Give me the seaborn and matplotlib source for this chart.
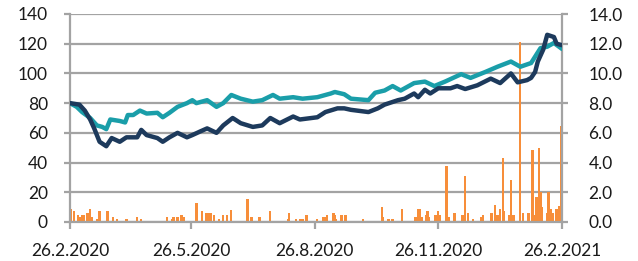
import matplotlib
matplotlib.use("Agg")
import matplotlib.pyplot as plt
from matplotlib.ticker import FormatStrFormatter, MultipleLocator
import seaborn as sns
import pandas as pd

# ---------------- data ----------------
navy_dates = ["2020-02-26", "2020-03-04", "2020-03-08", "2020-03-12", "2020-03-15", "2020-03-19",
              "2020-03-24", "2020-03-28", "2020-04-03", "2020-04-08", "2020-04-16", "2020-04-19",
              "2020-04-23", "2020-05-01", "2020-05-05", "2020-05-10", "2020-05-16", "2020-05-23",
              "2020-05-27", "2020-06-02", "2020-06-07", "2020-06-14", "2020-06-19", "2020-06-26",
              "2020-07-02", "2020-07-11", "2020-07-18", "2020-07-24", "2020-07-31", "2020-08-10",
              "2020-08-15", "2020-08-28", "2020-09-03", "2020-09-12", "2020-09-17", "2020-09-22",
              "2020-10-05", "2020-10-12", "2020-10-17", "2020-10-27", "2020-11-01", "2020-11-08",
              "2020-11-11", "2020-11-16", "2020-11-20", "2020-11-26", "2020-12-05", "2020-12-10",
              "2020-12-16", "2020-12-25", "2021-01-04", "2021-01-11", "2021-01-19", "2021-01-24",
              "2021-01-31", "2021-02-03", "2021-02-06", "2021-02-08", "2021-02-12", "2021-02-15",
              "2021-02-20", "2021-02-22", "2021-02-26"]
navy_values = [80, 79, 75, 69, 63, 54, 51, 56.5, 54, 57, 57, 62, 58.5, 56.5, 54, 57, 60, 57,
               58.5, 61, 63, 60, 65, 70, 66.5, 64, 65, 70, 66.5, 71, 69, 70.5, 74, 76.5, 76.5,
               75.5, 74, 76.5, 79, 82, 83, 86.5, 84, 89, 86.5, 90, 90, 91.5, 89.5, 92, 96.5,
               93.5, 100, 94, 95.5, 97, 101, 108, 116, 126, 124.5, 120, 119]

teal_dates = ["2020-02-26", "2020-03-02", "2020-03-06", "2020-03-12", "2020-03-17", "2020-03-21",
              "2020-03-24", "2020-03-27", "2020-04-03", "2020-04-07", "2020-04-09", "2020-04-13",
              "2020-04-18", "2020-04-23", "2020-05-01", "2020-05-05", "2020-05-10", "2020-05-16",
              "2020-05-23", "2020-05-27", "2020-05-30", "2020-06-07", "2020-06-14", "2020-06-19",
              "2020-06-25", "2020-07-02", "2020-07-11", "2020-07-18", "2020-07-26", "2020-07-31",
              "2020-08-10", "2020-08-17", "2020-08-28", "2020-09-07", "2020-09-10", "2020-09-17",
              "2020-09-22", "2020-10-05", "2020-10-10", "2020-10-17", "2020-10-23", "2020-10-29",
              "2020-11-08", "2020-11-16", "2020-11-23", "2020-12-01", "2020-12-13", "2020-12-20",
              "2020-12-31", "2021-01-09", "2021-01-19", "2021-01-26", "2021-02-03", "2021-02-10",
              "2021-02-15", "2021-02-20", "2021-02-26"]
teal_values = [80, 77.5, 74, 70, 65, 64, 62.5, 69, 68, 67, 72, 72, 75, 73, 73.5, 70.5, 73.5,
               77.5, 80, 82, 80, 82, 77.5, 80, 85.5, 83, 81, 82, 85.5, 83, 84, 83, 84, 86.5,
               87.5, 86, 83, 82, 87, 88.5, 91.5, 88.5, 93.5, 94.5, 91.5, 94.5, 99.5, 97, 101,
               104.5, 108, 104.5, 107, 117, 118, 120.5, 116.5]

bar_dates = ["2020-02-27", "2020-02-29", "2020-03-03", "2020-03-04", "2020-03-06", "2020-03-07",
             "2020-03-10", "2020-03-12", "2020-03-13", "2020-03-17", "2020-03-19", "2020-03-25",
             "2020-03-29", "2020-04-01", "2020-04-08", "2020-04-16", "2020-04-19", "2020-05-08",
             "2020-05-12", "2020-05-13", "2020-05-16", "2020-05-19", "2020-05-21", "2020-05-30",
             "2020-06-03", "2020-06-06", "2020-06-08", "2020-06-10", "2020-06-12", "2020-06-16",
             "2020-06-19", "2020-06-22", "2020-06-25", "2020-07-07", "2020-07-10", "2020-07-16",
             "2020-07-24", "2020-08-06", "2020-08-07", "2020-08-12", "2020-08-15", "2020-08-17",
             "2020-08-20", "2020-08-28", "2020-09-01", "2020-09-03", "2020-09-04", "2020-09-09",
             "2020-09-10", "2020-09-11", "2020-09-15", "2020-09-18", "2020-10-01", "2020-10-15",
             "2020-10-16", "2020-10-20", "2020-10-23", "2020-10-30", "2020-11-09", "2020-11-11",
             "2020-11-12", "2020-11-14", "2020-11-17", "2020-11-18", "2020-11-19", "2020-11-24",
             "2020-11-26", "2020-11-27", "2020-12-02", "2020-12-04", "2020-12-08", "2020-12-14",
             "2020-12-16", "2020-12-18", "2020-12-22", "2020-12-28", "2020-12-29", "2021-01-04",
             "2021-01-05", "2021-01-07", "2021-01-09", "2021-01-11", "2021-01-13", "2021-01-14",
             "2021-01-18", "2021-01-19", "2021-01-21", "2021-01-26", "2021-01-28", "2021-02-01",
             "2021-02-04", "2021-02-05", "2021-02-07", "2021-02-09", "2021-02-10", "2021-02-11",
             "2021-02-15", "2021-02-16", "2021-02-18", "2021-02-19", "2021-02-22", "2021-02-24",
             "2021-02-25"]
bar_values = [0.87, 0.74, 0.47, 0.36, 0.45, 0.45, 0.58, 0.85, 0.36, 0.18, 0.72, 0.72, 0.31,
              0.18, 0.18, 0.31, 0.18, 0.31, 0.18, 0.31, 0.31, 0.47, 0.36, 1.26, 0.74, 0.58,
              0.58, 0.58, 0.45, 0.18, 0.45, 0.45, 0.82, 1.52, 0.31, 0.31, 0.72, 0.18, 0.58,
              0.18, 0.18, 0.18, 0.45, 0.18, 0.31, 0.31, 0.45, 0.58, 0.45, 0.18, 0.45, 0.45,
              0.18, 1.0, 0.31, 0.18, 0.18, 0.85, 0.31, 0.85, 0.85, 0.31, 0.45, 0.72, 0.31,
              0.45, 0.72, 0.45, 3.8, 0.31, 0.58, 0.45, 3.1, 0.58, 0.18, 0.31, 0.45, 0.58,
              0.58, 1.15, 0.45, 0.85, 4.3, 0.72, 0.45, 2.85, 0.45, 12.1, 0.58, 0.58, 4.85,
              0.45, 1.7, 5.0, 2.0, 1.0, 0.58, 2.0, 0.85, 0.58, 0.85, 1.1, 6.45]

x_ticks = ["2020-02-26", "2020-05-26", "2020-08-26", "2020-11-26", "2021-02-26"]
x_tick_labels = ["26.2.2020", "26.5.2020", "26.8.2020", "26.11.2020", "26.2.2021"]

# ---------------- style ----------------
NAVY = "#1d3a5c"
TEAL = "#1a9ea9"
ORANGE = "#f78e3a"
GRID = "#a3a3a3"
TEXT = "#1a1a1a"

sns.set_theme(style="white")
plt.rcParams["font.family"] = ["Lato", "DejaVu Sans"]

fig = plt.figure(figsize=(6.38, 2.61), dpi=100)
ax_bar = fig.add_axes([70 / 638, 39 / 261, 492 / 638, 208 / 261])
ax_line = ax_bar.twinx()

# bars (right scale)
bdf = pd.DataFrame({"date": pd.to_datetime(bar_dates), "value": bar_values})
ax_bar.bar(bdf["date"], bdf["value"], width=1.7, color=ORANGE, linewidth=0, zorder=2)

# lines (left scale)
ndf = pd.DataFrame({"date": pd.to_datetime(navy_dates), "value": navy_values})
tdf = pd.DataFrame({"date": pd.to_datetime(teal_dates), "value": teal_values})
sns.lineplot(data=tdf, x="date", y="value", ax=ax_line, color=TEAL, linewidth=3.2,
             estimator=None, solid_joinstyle="round", solid_capstyle="round")
sns.lineplot(data=ndf, x="date", y="value", ax=ax_line, color=NAVY, linewidth=3.2,
             estimator=None, solid_joinstyle="round", solid_capstyle="round")

# axes sides: lines use left axis, bars right axis
ax_bar.yaxis.tick_right()
ax_bar.yaxis.set_label_position("right")
ax_line.yaxis.tick_left()
ax_line.yaxis.set_label_position("left")

ax_bar.set_ylim(0, 14)
ax_line.set_ylim(0, 140)
ax_bar.yaxis.set_major_locator(MultipleLocator(2))
ax_bar.yaxis.set_major_formatter(FormatStrFormatter("%.1f"))
ax_line.yaxis.set_major_locator(MultipleLocator(20))

xmin, xmax = pd.Timestamp("2020-02-26"), pd.Timestamp("2021-02-26")
ax_bar.set_xlim(xmin, xmax)
ax_line.set_xlim(xmin, xmax)
ax_bar.set_xticks(pd.to_datetime(x_ticks))
ax_bar.set_xticklabels(x_tick_labels)

ax_bar.grid(axis="y", color=GRID, linewidth=1.6, zorder=0)
ax_bar.grid(axis="x", visible=False)
ax_bar.set_axisbelow(True)
ax_line.grid(False)
ax_line.patch.set_visible(False)

for a in (ax_bar, ax_line):
    a.set_xlabel("")
    a.set_ylabel("")
    for s in a.spines.values():
        s.set_visible(False)

for side in ("left", "right", "bottom"):
    ax_bar.spines[side].set_visible(True)
    ax_bar.spines[side].set_color(GRID)
    ax_bar.spines[side].set_linewidth(1.6)

ax_bar.tick_params(axis="y", which="major", length=4, width=1.6, color=GRID,
                   labelsize=12.5, labelcolor=TEXT, pad=15, right=True, left=False)
ax_line.tick_params(axis="y", which="major", length=4, width=1.6, color=GRID,
                    labelsize=12.5, labelcolor=TEXT, pad=12, left=True, right=False)
ax_bar.tick_params(axis="x", which="major", length=5, width=1.6, color=GRID,
                   labelsize=12.5, labelcolor=TEXT, pad=10, bottom=True)
ax_line.tick_params(axis="x", bottom=False, labelbottom=False)

fig.savefig("out.png", dpi=100)
